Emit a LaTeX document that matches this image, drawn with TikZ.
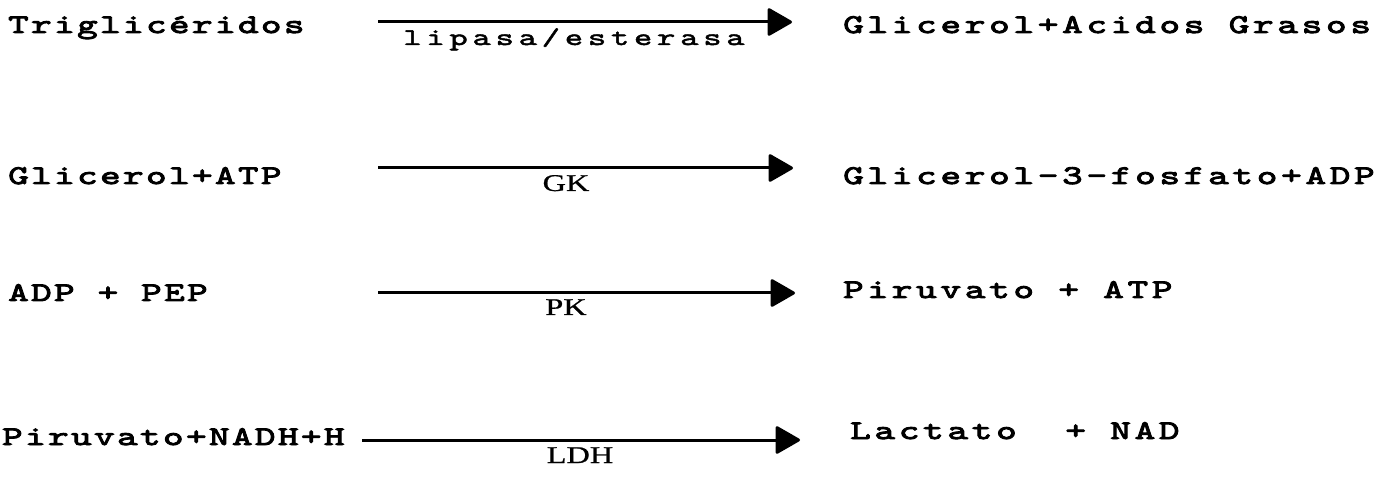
\documentclass[tikz,border=0pt]{standalone}
\usepackage{fontspec}
\usetikzlibrary{arrows.meta}
\newfontfamily\twleft[FakeStretch=1.45,LetterSpace=9,FakeBold=3.5]{lmmono10-regular.otf}
\newfontfamily\twright[FakeStretch=1.45,LetterSpace=14,FakeBold=3.5]{lmmono10-regular.otf}
\newfontfamily\twlight[FakeStretch=1.45,LetterSpace=20,FakeBold=2]{lmmono10-regular.otf}
\newfontfamily\enzfont[FakeStretch=1.35,FakeBold=0.8]{Liberation Serif}
\tikzset{
  tx/.style={anchor=base west, inner sep=0pt, font=\twleft\fontsize{27}{30}\selectfont},
  txr/.style={anchor=base west, inner sep=0pt, font=\twright\fontsize{27}{30}\selectfont},
  lab/.style={anchor=base, inner sep=0pt, font=\twlight\fontsize{24}{28}\selectfont},
  enz/.style={anchor=base, inner sep=0pt, font=\enzfont\fontsize{24}{28}\selectfont},
  arr/.style={line width=3pt, -{Triangle[length=26pt,width=29pt,round]}}
}
\begin{document}
\begin{tikzpicture}[x=1pt,y=-1pt]
\useasboundingbox[fill=white] (0,0) rectangle (1385,486);
% row 1
\node[tx] (r1l) at (8,33) {Triglicéridos};
\node[txr] (r1r) at (843,33) {Glicerol+Acidos Grasos};
\coordinate (a1s) at (378,22);
\coordinate (a1e) at (792,22);
\draw[arr] (a1s) -- (a1e);
\node[lab] (e1) at (574,45) {lipasa/esterasa};
% row 2
\node[tx] (r2l) at (8,184) {Glicerol+ATP};
\node[txr] (r2r) at (843,184) {Glicerol-3-fosfato+ADP};
\coordinate (a2s) at (378,168);
\coordinate (a2e) at (793,168);
\draw[arr] (a2s) -- (a2e);
\node[enz] (e2) at (566,191) {GK};
% row 3
\node[tx] (r3l) at (8,301) {ADP + PEP};
\node[txr] (r3r) at (843,298) {Piruvato + ATP};
\coordinate (a3s) at (378,293);
\coordinate (a3e) at (795,293);
\draw[arr] (a3s) -- (a3e);
\node[enz] (e3) at (566,315) {PK};
% row 4
\node[tx] (r4l) at (2,445) {Piruvato+NADH+H};
\node[txr] (r4r) at (850,439) {Lactato~~+~NAD};
\coordinate (a4s) at (362,440);
\coordinate (a4e) at (800,440);
\draw[arr] (a4s) -- (a4e);
\node[enz] (e4) at (580,463) {LDH};
\end{tikzpicture}
\end{document}
